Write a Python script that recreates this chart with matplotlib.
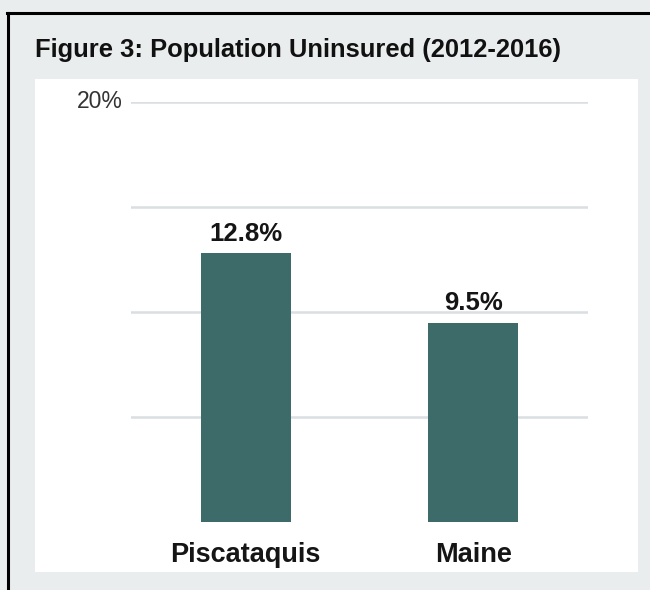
import matplotlib.pyplot as plt
from matplotlib.patches import Rectangle
from matplotlib.lines import Line2D

plt.rcParams['font.family'] = ['Liberation Sans', 'DejaVu Sans']

places = ['Piscataquis', 'Maine']
uninsured = [12.8, 9.5]
grid_ticks = [5, 10, 15, 20]

bar_color = '#3c6b6a'
back_color = '#e9edee'

fig = plt.figure(figsize=(6.5, 5.9), dpi=100, facecolor=back_color)

# white panel behind the chart
fig.add_artist(Rectangle((35 / 650, 18 / 590), 603 / 650, 493 / 590,
                         transform=fig.transFigure, facecolor='white',
                         edgecolor='none', zorder=0))

# black frame on top and left
fig.add_artist(Line2D([8 / 650, 8 / 650], [0, 1 - 13 / 590], transform=fig.transFigure,
                      color='black', linewidth=2.2))
fig.add_artist(Line2D([7 / 650, 1], [1 - 13 / 590, 1 - 13 / 590], transform=fig.transFigure,
                      color='black', linewidth=2.2))

fig.text(35 / 650, 1 - 57 / 590, 'Figure 3: Population Uninsured (2012-2016)',
         fontsize=18.4, fontweight='bold', ha='left', va='baseline', color='#111111')

ax = fig.add_axes([131 / 650, 68 / 590, 457 / 650, 420 / 590])
ax.set_facecolor('none')
ax.set_xlim(-0.504, 1.504)
ax.set_ylim(0, 20)

for t in grid_ticks:
    ax.axhline(t, color='#dadfe2', linewidth=1.8, zorder=1)

x = list(range(len(places)))
ax.bar(x, uninsured, width=0.395, color=bar_color, zorder=2)

for xi, v in zip(x, uninsured):
    ax.annotate(f'{v}%', (xi, v), xytext=(0, 9), textcoords='offset points',
                ha='center', va='baseline', fontsize=18.5, fontweight='bold',
                color='#151515', zorder=3)

for xi, name in zip(x, places):
    ax.annotate(name, (xi, 0), xytext=(0, -29), textcoords='offset points',
                ha='center', va='baseline', fontsize=19.5, fontweight='bold',
                color='#151515')

ax.annotate('20%', (-0.504, 20), xytext=(-6, 0), textcoords='offset points',
            ha='right', va='center', fontsize=16.5, color='#333333')

ax.set_xticks([])
ax.set_yticks([])
for s in ax.spines.values():
    s.set_visible(False)

fig.savefig('out.png', dpi=100, facecolor=back_color)
